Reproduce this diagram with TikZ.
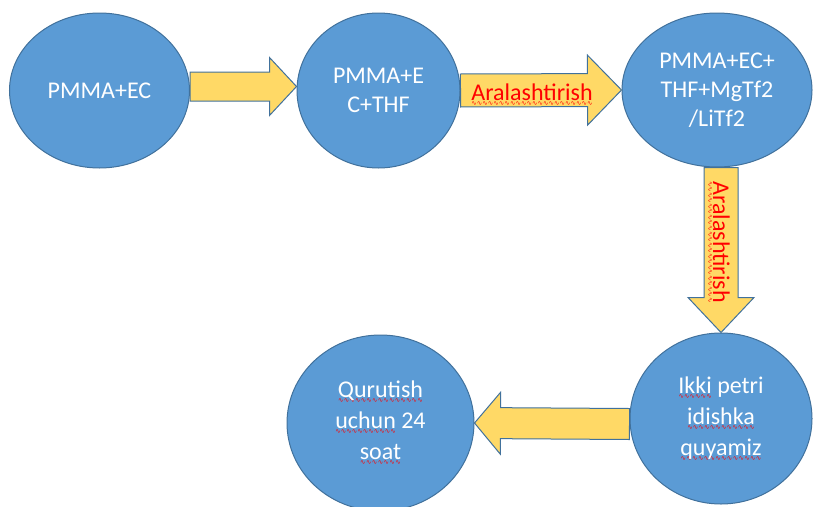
\documentclass[tikz,border=0pt]{standalone}
\usepackage{fontspec}
\setmainfont{Carlito}
\newfontfamily\wavefont{DejaVu Sans}
\usetikzlibrary{shapes.geometric,calc}

\definecolor{stepblue}{HTML}{5B9BD5}
\definecolor{edgeblue}{HTML}{41719C}
\definecolor{arrowgold}{HTML}{FFD966}

% red spell-check wave under a word
\newcommand{\spell}[1]{\setbox0\hbox{#1}\rlap{\color{red}\lower5pt\hbox to\wd0{\xleaders\hbox{\wavefont\fontsize{6.5}{6.5}\selectfont\char"223F}\hfil}}\box0\relax}

% block arrow: from, to, shaft half width, head half width, head length
\newcommand{\blockarrow}[5]{%
  \coordinate (hb) at ($(#2)!#5pt!(#1)$);
  \draw[flowarrow] ($(#1)!#3pt!90:(#2)$) -- ($(hb)!#3pt!90:(#2)$) -- ($(hb)!#4pt!90:(#2)$) -- (#2)
    -- ($(hb)!#4pt!-90:(#2)$) -- ($(hb)!#3pt!-90:(#2)$) -- ($(#1)!#3pt!-90:(#2)$) -- cycle;
}

\begin{document}
\begin{tikzpicture}[x=1pt, y=-1pt,
    stepnode/.style={ellipse, draw=edgeblue, line width=1pt, fill=stepblue, inner sep=0pt,
      text=white, align=center, font=\fontsize{24}{29}\selectfont},
    flowarrow/.style={draw=edgeblue, line width=1pt, fill=arrowgold},
    arrowlabel/.style={text=red, inner sep=0pt, font=\fontsize{24}{29}\selectfont}]
  \useasboundingbox (0,0) rectangle (813,506);
  \clip (0,0) rectangle (813,506);

  \node[stepnode, minimum width=180pt, minimum height=155pt] at (99.5,90.5) (pmmaec) {PMMA+EC};
  \node[stepnode, minimum width=163pt, minimum height=155pt] at (378.5,90.5) (thfmix) {PMMA+E\\C+THF};
  \node[stepnode, minimum width=190pt, minimum height=154pt] at (717,90) (saltmix) {PMMA+EC+\\THF+MgTf2\\/LiTf2};
  \node[stepnode, minimum width=182pt, minimum height=171pt, font=\fontsize{24}{31}\selectfont] at (721,418.5) (petri) {\spell{Ikki} petri\\\spell{idishka}\\\spell{quyamiz}};
  \node[stepnode, minimum width=187pt, minimum height=176pt, font=\fontsize{24}{31}\selectfont] at (380.5,423) (drying) {\spell{Qurutish}\\\spell{uchun} 24\\\spell{soat}};

  \coordinate (a1s) at ([yshift=4pt]pmmaec.east);
  \coordinate (a1e) at ([yshift=4pt]thfmix.west);
  \blockarrow{a1s}{a1e}{14.5}{29}{27}
  \blockarrow{thfmix.east}{saltmix.west}{16.5}{35}{34}
  \coordinate (a3s) at (saltmix.south -| petri.north);
  \blockarrow{a3s}{petri.north}{17}{33}{35}
  \coordinate (a4s) at ([yshift=-5.5pt]petri.west);
  \blockarrow{a4s}{drying.east}{15.5}{31}{26}

  \node[arrowlabel, anchor=base] at (532,100) (mixing1) {\spell{Aralashtirish}};
  \node[arrowlabel, anchor=base, rotate=-90] at (713,242) (mixing2) {\spell{Aralashtirish}};
\end{tikzpicture}
\end{document}
